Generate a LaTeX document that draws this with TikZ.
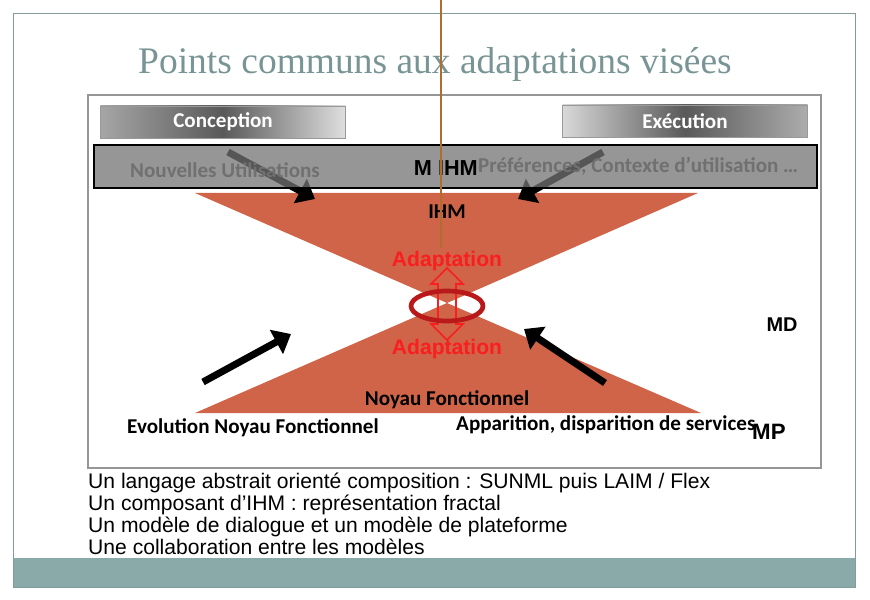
\documentclass[tikz,border=0pt]{standalone}
\usepackage{fontspec}
\setmainfont{Liberation Sans}
\newfontfamily\carlito{Carlito}
\newfontfamily\ttlserif{Liberation Serif}
\usepackage{tikz}
\usetikzlibrary{arrows.meta,shadows}
\definecolor{FrameTeal}{RGB}{130,155,155}
\definecolor{BarTeal}{RGB}{138,170,170}
\definecolor{TitleTeal}{RGB}{120,148,148}
\definecolor{BoxGray}{RGB}{150,150,150}
\definecolor{BandGray}{RGB}{115,115,115}
\definecolor{FaintText}{RGB}{112,112,112}
\definecolor{HourRed}{RGB}{207,100,72}
\definecolor{RingRed}{RGB}{185,25,25}
\definecolor{AdaRed}{RGB}{250,30,30}
\definecolor{WireBrown}{RGB}{175,110,45}
\tikzset{
  btn/.style={draw=gray!80, minimum width=7.35cm, minimum height=0.96cm, inner sep=0pt,
    font=\carlito\bfseries\fontsize{18}{20}\selectfont, text=white,
    drop shadow={opacity=.3, shadow xshift=.6pt, shadow yshift=-.6pt}},
  band/.style={draw=black, line width=2.5pt, fill=BandGray, fill opacity=.75,
    minimum width=21.69cm, minimum height=1.29cm, inner sep=0pt},
  faint/.style={font=\carlito\bfseries\fontsize{18}{20}\selectfont, text=FaintText, inner sep=0pt},
  lbl/.style={font=\carlito\bfseries\fontsize{18}{20}\selectfont, inner sep=0pt},
  ada/.style={font=\bfseries\fontsize{18}{20}\selectfont, text=AdaRed, inner sep=0pt},
  mlbl/.style={font=\bfseries\fontsize{17}{19}\selectfont, inner sep=0pt},
  bigarr/.style={-{Triangle[length=0.5cm,width=0.8cm]}, line width=6pt, black},
}

\begin{document}
\begin{tikzpicture}[x=0.03cm, y=-0.03cm]
  \useasboundingbox (0,0) rectangle (870,600);
  \fill[BarTeal] (13,558) rectangle (855,587);
  \draw[FrameTeal, line width=0.8pt] (13,13) rectangle (855,587);
  \node[font=\ttlserif\fontsize{32}{35}\selectfont, text=TitleTeal, anchor=base] (title) at (435,74)
    {Points communs aux adaptations visées};
  \draw[BoxGray, line width=2.5pt] (88,95) rectangle (821,468);

  \fill[HourRed] (195,193) -- (698,193) -- (447,303) -- cycle;
  \fill[HourRed] (195,413) -- (701,413) -- (447,303) -- cycle;

  \node[btn, left color=gray!70, right color=gray!25, middle color=black!65] (conc) at (223,122) {Conception};
  \node[btn, left color=gray!30, right color=gray!65, middle color=black!65] (exec) at (685,121) {Exécution};

  \coordinate (tl0) at (228,152); \coordinate (tl1) at (315,199);
  \coordinate (tr0) at (603,152); \coordinate (tr1) at (518,199);
  \coordinate (bl0) at (203,382); \coordinate (bl1) at (291,334);
  \coordinate (br0) at (605,383); \coordinate (br1) at (524,329);
  \draw[bigarr] (tl0) -- (tl1);
  \draw[bigarr] (tr0) -- (tr1);
  \node[band] (band) at (455.5,166.5) {};
  \node[faint, anchor=west] (nouv) at (130,170) {Nouvelles Utilisations};
  \node[mlbl, font=\bfseries\fontsize{18.5}{20}\selectfont, anchor=east] (mihm) at (478,168) {M IHM};
  \node[faint, anchor=west] (pref) at (478,166) {Préférences, Contexte d’utilisation …};
  \draw[bigarr] (bl0) -- (bl1);
  \draw[bigarr] (br0) -- (br1);

  \node[lbl] (ihm) at (447,212) {IHM};
  \draw[AdaRed, line width=1.5pt] (447,268) -- (463,284) -- (456,284) -- (456,324) -- (463,324) -- (447,340)
    -- (431,324) -- (438,324) -- (438,284) -- (431,284) -- cycle;
  \draw[RingRed, line width=4pt] (447,306) ellipse [x radius=1.08cm, y radius=0.45cm];
  \node[ada] (adatop) at (447,261) {Adaptation};
  \node[ada] (adabot) at (447,349) {Adaptation};
  \node[mlbl] (md) at (782,325) {MD};
  \node[lbl] (noyau) at (447,400) {Noyau Fonctionnel};
  \node[lbl, anchor=west] (evol) at (127,428) {Evolution Noyau Fonctionnel};
  \node[lbl, anchor=west] (appar) at (456,425) {Apparition, disparition de services};
  \node[mlbl, font=\bfseries\fontsize{19}{21}\selectfont, anchor=west] (mp) at (752,432) {MP};

  \node[anchor=north west, align=left, inner sep=0pt, font=\fontsize{18}{18.7}\selectfont] (goals) at (88,473)
    {Un langage abstrait orienté composition : SUNML puis LAIM / Flex\\
     Un composant d’IHM : représentation fractal\\
     Un modèle de dialogue et un modèle de plateforme\\
     Une collaboration entre les modèles};

  \coordinate (wtop) at (441,0); \coordinate (wend) at (441,248);
  \draw[WireBrown, line width=1.5pt] (wtop) -- (wend);
\end{tikzpicture}
\end{document}
